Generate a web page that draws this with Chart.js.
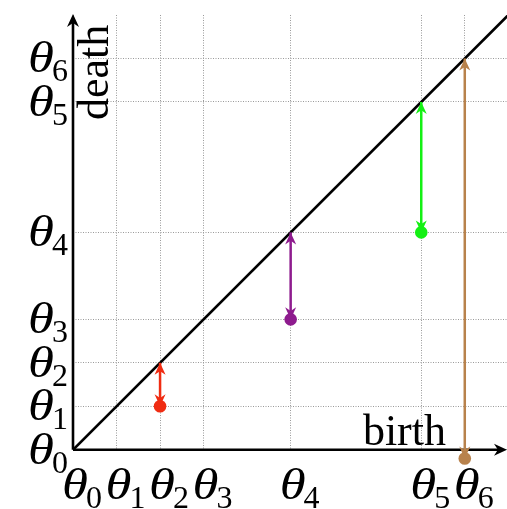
<!DOCTYPE html>
<html>
<head>
<meta charset="utf-8">
<script src="https://cdn.jsdelivr.net/npm/chart.js@4/dist/chart.umd.min.js"></script>
<style>
  html, body { margin: 0; padding: 0; background: #fff; }
  canvas { display: block; }
</style>
</head>
<body>
<canvas id="chart" width="507" height="509"></canvas>
<script>
// tick positions of theta_0 .. theta_6 and their subscripts
const thetaValues = [0, 1, 2, 3, 5, 8, 9];
const thetaSubs = ['0', '1', '2', '3', '4', '5', '6'];
// persistence pairs: (birth, death) points, each with an arrow up to the diagonal
const births = [2, 5, 8, 9];
const deaths = [1, 3, 5, -0.2];
const diagonal = [0, 10];
const xTitle = 'birth';
const yTitle = 'death';

const pairColors = ['#f02c12', '#8e1b8e', '#14f014', '#b8824c'];
const serif = '"Liberation Serif", "DejaVu Serif", serif';
const thetaFont = 'italic 44px ' + serif;
const subFont = '32px ' + serif;
const thetaStretch = 1.2;

function head(ctx, tx, ty, ang, len, half) {
  ctx.save();
  ctx.translate(tx, ty);
  ctx.rotate(ang);
  ctx.beginPath();
  ctx.moveTo(0, 0);
  ctx.lineTo(-len, -half);
  ctx.lineTo(-len * 0.7, 0);
  ctx.lineTo(-len, half);
  ctx.closePath();
  ctx.fill();
  ctx.restore();
}

function theta(ctx, left, base) {
  ctx.save();
  ctx.font = thetaFont;
  ctx.translate(left, base);
  ctx.scale(thetaStretch, 1);
  ctx.fillText('\u03b8', 0, 0);
  ctx.restore();
}

const axesPlugin = {
  id: 'axes',
  beforeDatasetsDraw(chart) {
    const { ctx, chartArea: a, scales: { x, y } } = chart;
    const x0 = x.getPixelForValue(0), y0 = y.getPixelForValue(0);
    ctx.save();
    // grid stops at the birth axis
    ctx.fillStyle = '#fff';
    ctx.fillRect(a.left, y0 + 1, a.right - a.left, a.bottom - y0 + 2);
    ctx.strokeStyle = '#000';
    ctx.fillStyle = '#000';
    ctx.lineWidth = 2.6;
    ctx.beginPath();
    ctx.moveTo(x0, y0); ctx.lineTo(a.right - 6, y0);
    ctx.moveTo(x0, y0); ctx.lineTo(x0, a.top + 6);
    ctx.stroke();
    head(ctx, a.right, y0, 0, 13, 6);
    head(ctx, x0, a.top - 1, -Math.PI / 2, 13, 6);
    ctx.restore();
  },
  afterDatasetDraw(chart, args) {
    const ds = chart.data.datasets[args.index];
    if (!ds.isArrow) return;
    const { ctx } = chart;
    const pts = args.meta.data;
    ctx.save();
    ctx.fillStyle = ds.borderColor;
    head(ctx, pts[1].x, pts[1].y, -Math.PI / 2, 12, 5.5);
    head(ctx, pts[0].x, pts[0].y, Math.PI / 2, 12, 5.5);
    ctx.restore();
  },
  afterDraw(chart) {
    const { ctx, scales: { x, y } } = chart;
    const x0 = x.getPixelForValue(0);
    ctx.save();
    ctx.fillStyle = '#000';
    ctx.textBaseline = 'alphabetic';
    ctx.textAlign = 'left';
    ctx.font = thetaFont;
    const tw = ctx.measureText('\u03b8').width * thetaStretch;
    thetaValues.forEach((v, i) => {
      ctx.font = subFont;
      const sw = ctx.measureText(thetaSubs[i]).width;
      // death axis label
      const py = y.getPixelForValue(v);
      const ly = x0 - 5 - sw - tw + 2;
      theta(ctx, ly, py + 14);
      ctx.font = subFont;
      ctx.fillText(thetaSubs[i], ly + tw - 2, py + 23);
      // birth axis label
      const px = x.getPixelForValue(v);
      theta(ctx, px - 11, 499);
      ctx.font = subFont;
      ctx.fillText(thetaSubs[i], px - 11 + tw - 2, 508);
    });
    ctx.font = '44px ' + serif;
    ctx.textAlign = 'right';
    ctx.fillText(xTitle, 446, 445);
    ctx.translate(108, 120);
    ctx.rotate(-Math.PI / 2);
    ctx.textAlign = 'left';
    ctx.fillText(yTitle, 0, 0);
    ctx.restore();
  }
};

const datasets = [];
datasets.push({
  data: births.map((b, i) => ({ x: b, y: deaths[i] })),
  pointBackgroundColor: pairColors,
  pointBorderColor: pairColors,
  pointRadius: 6.3,
  pointBorderWidth: 0,
  clip: false
});
births.forEach((b, i) => {
  datasets.push({
    isArrow: true,
    data: [{ x: b, y: deaths[i] }, { x: b, y: b }],
    showLine: true,
    borderColor: pairColors[i],
    borderWidth: 2.5,
    pointRadius: 0,
    clip: false
  });
});
datasets.push({
  data: diagonal.map(v => ({ x: v, y: v })),
  showLine: true,
  borderColor: '#000',
  borderWidth: 2.6,
  pointRadius: 0
});

const gridOpts = { color: '#9a9a9a', lineWidth: 1, drawTicks: false };
const thetaTicks = scale => { scale.ticks = thetaValues.map(v => ({ value: v })); };

new Chart(document.getElementById('chart'), {
  type: 'scatter',
  data: { datasets },
  options: {
    responsive: false,
    animation: false,
    events: [],
    layout: { autoPadding: false, padding: { left: 73, right: 0, top: 15, bottom: 44 } },
    plugins: { legend: { display: false }, tooltip: { enabled: false } },
    scales: {
      x: {
        type: 'linear', min: 0, max: 9.97,
        afterBuildTicks: thetaTicks,
        ticks: { display: false },
        grid: gridOpts,
        border: { display: false, dash: [1, 1.5] }
      },
      y: {
        type: 'linear', min: -0.35, max: 10,
        afterBuildTicks: thetaTicks,
        ticks: { display: false },
        grid: gridOpts,
        border: { display: false, dash: [1, 1.5] }
      }
    }
  },
  plugins: [axesPlugin]
});
</script>
</body>
</html>
